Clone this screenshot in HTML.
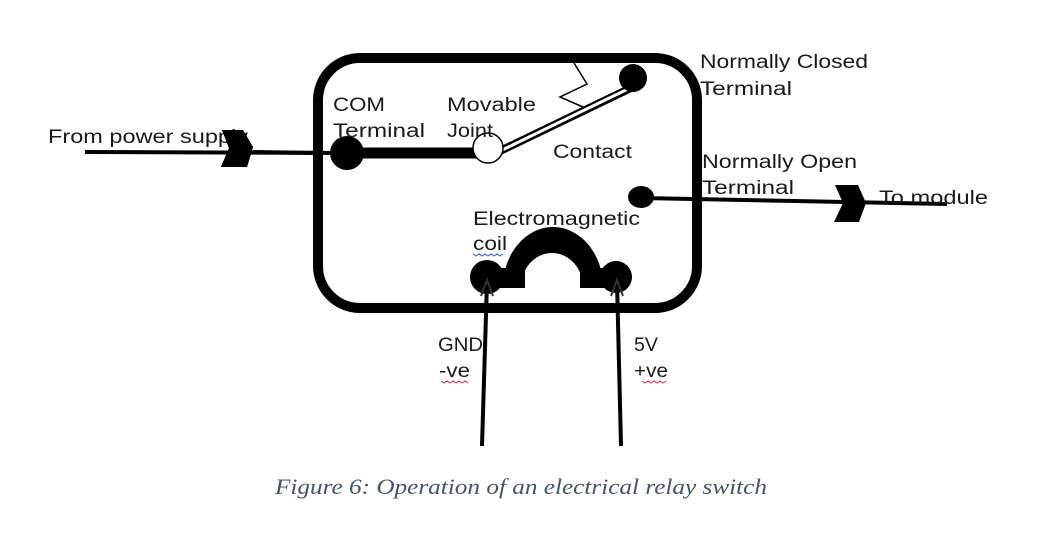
<!DOCTYPE html>
<html><head><meta charset="utf-8"><style>
html,body{margin:0;padding:0;background:#fff;}
svg{display:block;}
text{font-family:"Liberation Sans",sans-serif;font-size:19px;fill:#1a1a1a;}
</style></head><body>
<svg width="1049" height="544" viewBox="0 0 1049 544">
  <rect x="318" y="58" width="379" height="250" rx="42" ry="42" fill="none" stroke="#000" stroke-width="10"/>
  <!-- input wire -->
  <line x1="85" y1="152" x2="347" y2="153" stroke="#000" stroke-width="4"/>
  <polygon points="222,130 243,130 253,147 247,167 221,167 229,148" fill="#000"/>
  <!-- COM terminal -->
  <circle cx="347" cy="153" r="17" fill="#000"/>
  <line x1="347" y1="153" x2="488" y2="153" stroke="#000" stroke-width="11"/>
  <!-- contact arm -->
  <line x1="496" y1="153" x2="635" y2="86" stroke="#000" stroke-width="8"/>
  <line x1="496" y1="153" x2="632" y2="87" stroke="#fff" stroke-width="3"/>
  <circle cx="488" cy="148" r="15" fill="#fff" stroke="#000" stroke-width="1.5"/>
  <!-- spring -->
  <polyline points="574,63 587,84 560,97 583,107" fill="none" stroke="#000" stroke-width="1.5"/>
  <!-- NC terminal -->
  <circle cx="633" cy="78" r="14" fill="#000"/>
  <!-- NO terminal -->
  <ellipse cx="641" cy="197" rx="13" ry="11" fill="#000"/>
  <line x1="641" y1="198" x2="947" y2="204" stroke="#000" stroke-width="4"/>
  <polygon points="835,185 858,185 866,203 859,222 834,222 843,203" fill="#000"/>
  <!-- coil -->
  <path d="M503,287 A50,60 0 0 1 603,287 L583,287 A31,34 0 0 0 521,287 Z" fill="#000"/>
  <rect x="490" y="268" width="35" height="20" fill="#000"/>
  <rect x="580" y="268" width="35" height="20" fill="#000"/>
  <circle cx="487" cy="277" r="17" fill="#000"/>
  <circle cx="616" cy="277" r="16" fill="#000"/>
  <!-- lead wires -->
  <line x1="487" y1="282" x2="482" y2="446" stroke="#000" stroke-width="4"/>
  <line x1="617" y1="282" x2="621" y2="446" stroke="#000" stroke-width="4"/>
  <polyline points="481,296 487,280 493,296" fill="none" stroke="#333" stroke-width="2"/>
  <polyline points="611,296 617,280 623,296" fill="none" stroke="#333" stroke-width="2"/>
  <!-- labels -->
  <text x="48" y="143" textLength="200" lengthAdjust="spacingAndGlyphs">From power supply</text>
  <polygon points="222,130 243,130 253,147 247,167 221,167 229,148" fill="#000"/>
  <rect x="253" y="125" width="12" height="24" fill="#fff"/>
  <line x1="253" y1="152" x2="320" y2="153" stroke="#000" stroke-width="4"/>
  <text x="333" y="111" textLength="52" lengthAdjust="spacingAndGlyphs">COM</text>
  <text x="333" y="137" textLength="92" lengthAdjust="spacingAndGlyphs">Terminal</text>
  <text x="447" y="111" textLength="89" lengthAdjust="spacingAndGlyphs">Movable</text>
  <text x="447" y="137" textLength="46" lengthAdjust="spacingAndGlyphs">Joint</text>
  <text x="553" y="158" textLength="79" lengthAdjust="spacingAndGlyphs">Contact</text>
  <text x="700" y="68" textLength="168" lengthAdjust="spacingAndGlyphs">Normally Closed</text>
  <text x="700" y="95" textLength="92" lengthAdjust="spacingAndGlyphs">Terminal</text>
  <text x="702" y="168" textLength="155" lengthAdjust="spacingAndGlyphs">Normally Open</text>
  <text x="702" y="194" textLength="92" lengthAdjust="spacingAndGlyphs">Terminal</text>
  <text x="879" y="204" textLength="109" lengthAdjust="spacingAndGlyphs">To module</text>
  <text x="473" y="225" textLength="167" lengthAdjust="spacingAndGlyphs">Electromagnetic</text>
  <text x="473" y="250" textLength="34" lengthAdjust="spacingAndGlyphs">coil</text>
  <text x="438" y="351" textLength="45" lengthAdjust="spacingAndGlyphs">GND</text>
  <text x="439" y="377" textLength="31" lengthAdjust="spacingAndGlyphs">-ve</text>
  <text x="634" y="351" textLength="24" lengthAdjust="spacingAndGlyphs">5V</text>
  <text x="634" y="377" textLength="34" lengthAdjust="spacingAndGlyphs">+ve</text>
  <path d="M473,254 l3,2 l3,-2 l3,2 l3,-2 l3,2 l3,-2 l3,2 l3,-2 l3,2 l3,-2" fill="none" stroke="#3355dd" stroke-width="1"/>
  <path d="M441,381 l3,2 l3,-2 l3,2 l3,-2 l3,2 l3,-2 l3,2 l3,-2 l3,2" fill="none" stroke="#dd2244" stroke-width="1"/>
  <path d="M642,381 l3,2 l3,-2 l3,2 l3,-2 l3,2 l3,-2 l3,2 l3,-2" fill="none" stroke="#dd2244" stroke-width="1"/>
  <text x="275" y="494" textLength="492" lengthAdjust="spacingAndGlyphs" style="font-family:'Liberation Serif',serif;font-style:italic;font-size:22px;fill:#44546a;">Figure 6: Operation of an electrical relay switch</text>
</svg>
</body></html>
